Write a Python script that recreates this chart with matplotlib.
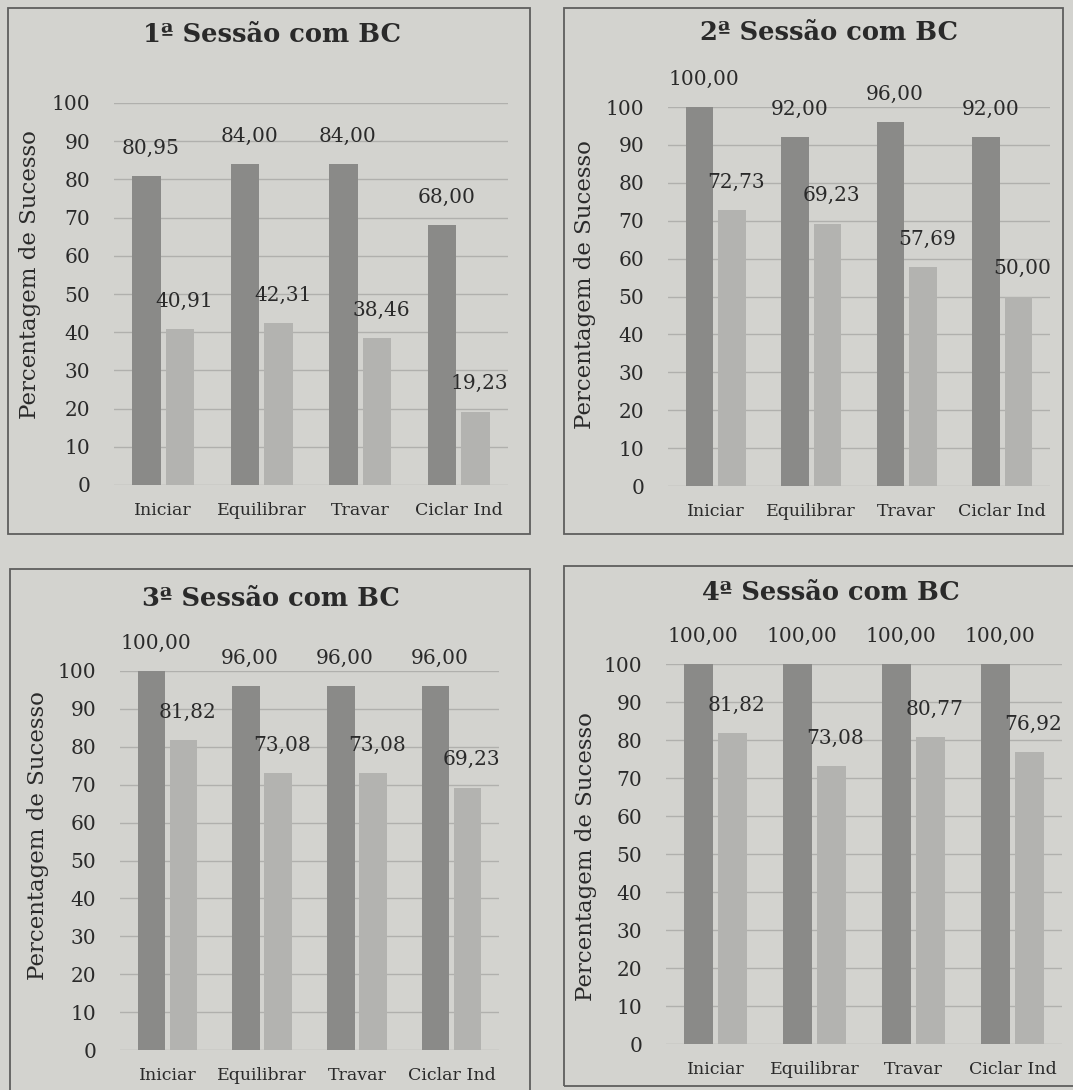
import matplotlib
matplotlib.use("Agg")
import matplotlib.pyplot as plt
from matplotlib.patches import Rectangle
import numpy as np

# Success rate per task, first attempt group (dark) and second group (light)
categories = ["Iniciar", "Equilibrar", "Travar", "Ciclar Ind"]
titles = ["1ª Sessão com BC", "2ª Sessão com BC", "3ª Sessão com BC", "4ª Sessão com BC"]

sessao1_a = [80.95, 84.00, 84.00, 68.00]
sessao1_b = [40.91, 42.31, 38.46, 19.23]
sessao2_a = [100.00, 92.00, 96.00, 92.00]
sessao2_b = [72.73, 69.23, 57.69, 50.00]
sessao3_a = [100.00, 96.00, 96.00, 96.00]
sessao3_b = [81.82, 73.08, 73.08, 69.23]
sessao4_a = [100.00, 100.00, 100.00, 100.00]
sessao4_b = [81.82, 73.08, 80.77, 76.92]

y_ticks = list(range(0, 101, 10))
y_label = "Percentagem de Sucesso"

W, H = 1073, 1090
PAPER = "#d3d3cf"
DARK = "#8a8a88"
LIGHT = "#b3b3b0"
TEXT = "#2a2a2a"
GRID = "#b0b0ad"
FRAME = "#5e5e5e"

plt.rcParams["font.family"] = ["DejaVu Serif"]

fig = plt.figure(figsize=(W / 100, H / 100), dpi=100, facecolor=PAPER)


def px_rect(left, top, right, bottom):
    """Convert pixel box (top-left origin) to figure fraction [x, y, w, h]."""
    return [left / W, 1 - bottom / H, (right - left) / W, (bottom - top) / H]


def fx(x):
    return x / W


def fy(y):
    return 1 - y / H


panels = [
    # frame box, axes box, title position, y-label position, series
    dict(frame=(8, 8, 530, 534), axes=(114, 103, 508, 485),
         title=(272, 34), ylab=(30, 275), a=sessao1_a, b=sessao1_b),
    dict(frame=(564, 8, 1063, 534), axes=(668, 107, 1050, 486),
         title=(829, 33), ylab=(585, 285), a=sessao2_a, b=sessao2_b),
    dict(frame=(10, 569, 530, 1096), axes=(120, 671, 499, 1050),
         title=(271, 598), ylab=(38, 836), a=sessao3_a, b=sessao3_b),
    dict(frame=(564, 566, 1080, 1086), axes=(666, 664, 1062, 1044),
         title=(831, 593), ylab=(586, 857), a=sessao4_a, b=sessao4_b),
]

bar_w = 0.29
offset = 0.17
x = np.arange(len(categories))


def fmt(v):
    return f"{v:.2f}".replace(".", ",")


for p, title in zip(panels, titles):
    l, t, r, b = p["frame"]
    fig.patches.append(Rectangle((fx(l), fy(b)), (r - l) / W, (b - t) / H,
                                 transform=fig.transFigure, fill=False,
                                 edgecolor=FRAME, linewidth=1.3))

    ax = fig.add_axes(px_rect(*p["axes"]))
    ax.set_facecolor("none")
    ax.bar(x - offset, p["a"], width=bar_w, color=DARK, zorder=3)
    ax.bar(x + offset, p["b"], width=bar_w, color=LIGHT, zorder=3)

    for xs, vals in ((x - offset, p["a"]), (x + offset, p["b"])):
        for xi, v in zip(xs, vals):
            ax.annotate(fmt(v), (xi, v), xytext=(3, 20),
                        textcoords="offset points", ha="center", va="center",
                        fontsize=14.5, color=TEXT, annotation_clip=False)

    ax.set_xlim(-0.5, len(categories) - 0.5)
    ax.set_ylim(0, 100)
    ax.set_yticks(y_ticks)
    ax.set_yticklabels([str(v) for v in y_ticks], fontsize=14.5, color=TEXT)
    ax.set_xticks(x)
    ax.set_xticklabels(categories, fontsize=12.5, color=TEXT)
    ax.tick_params(axis="y", length=0, pad=17)
    ax.tick_params(axis="x", length=0, pad=12)
    ax.grid(axis="y", color=GRID, linewidth=1.0, zorder=0)
    ax.set_axisbelow(True)
    for s in ax.spines.values():
        s.set_visible(False)

    tx, ty = p["title"]
    fig.text(fx(tx), fy(ty), title, ha="center", va="center",
             fontsize=18.5, fontweight="bold", color=TEXT)
    yx, yy = p["ylab"]
    fig.text(fx(yx), fy(yy), y_label, ha="center", va="center",
             rotation=90, fontsize=16.5, color=TEXT)

fig.savefig("out.png", dpi=100, facecolor=PAPER)
